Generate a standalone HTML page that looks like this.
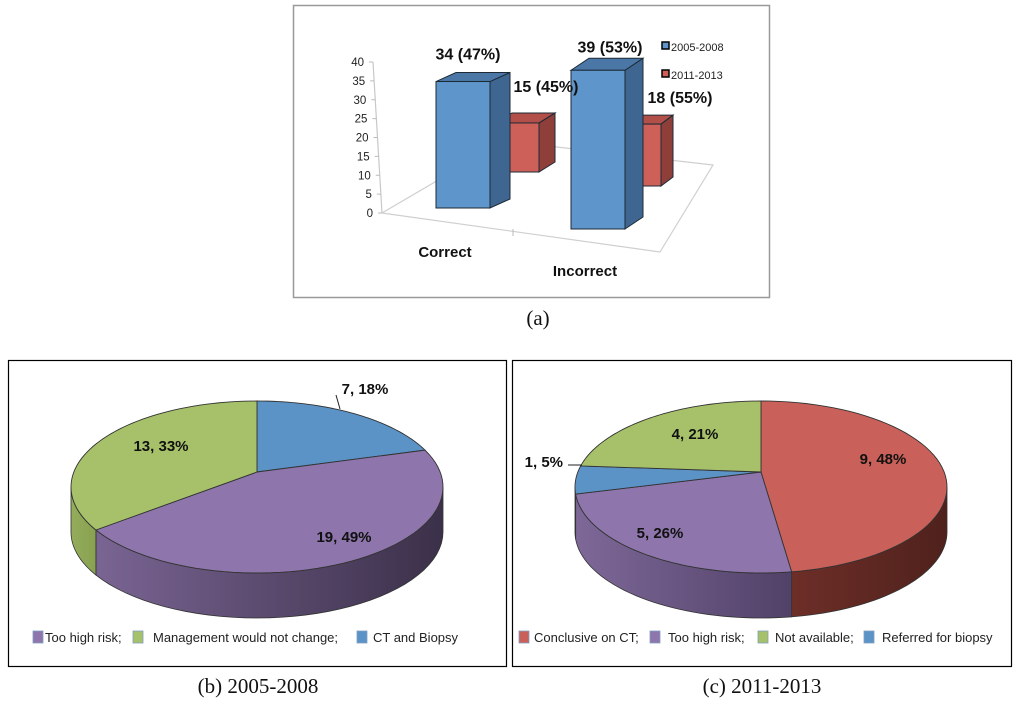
<!DOCTYPE html>
<html><head><meta charset="utf-8">
<style>
html,body{margin:0;padding:0;background:#fff;}
svg{display:block;font-family:"Liberation Sans",sans-serif;}
.cap{font-family:"Liberation Serif",serif;font-size:21px;fill:#111;}
</style></head>
<body>
<svg id="fig" width="1024" height="706" viewBox="0 0 1024 706">
<defs>
<linearGradient id="gPurple" gradientUnits="userSpaceOnUse" x1="72" x2="443" y1="0" y2="0">
<stop offset="0" stop-color="#7e6898"/><stop offset="1" stop-color="#3b3049"/></linearGradient>
<linearGradient id="gPurpleC" gradientUnits="userSpaceOnUse" x1="575" x2="800" y1="0" y2="0">
<stop offset="0" stop-color="#7e6898"/><stop offset="1" stop-color="#4f4066"/></linearGradient>
<linearGradient id="gRed" gradientUnits="userSpaceOnUse" x1="790" x2="948" y1="0" y2="0">
<stop offset="0" stop-color="#6e2e28"/><stop offset="1" stop-color="#4f211c"/></linearGradient>
<linearGradient id="gGreen" gradientUnits="userSpaceOnUse" x1="72" x2="100" y1="0" y2="0">
<stop offset="0" stop-color="#93ac5c"/><stop offset="1" stop-color="#86a050"/></linearGradient>
</defs>
<rect x="293.5" y="5.5" width="476" height="292" fill="#fff" stroke="#999" stroke-width="1.5"/>
<g id="barChart"></g>
<text class="cap" x="538" y="325" text-anchor="middle">(a)</text>
<rect x="8.5" y="360.5" width="498" height="306" fill="#fff" stroke="#000" stroke-width="1.2"/>
<g id="pieB"></g>
<rect x="512.5" y="360.5" width="499" height="306" fill="#fff" stroke="#000" stroke-width="1.2"/>
<g id="pieC"></g>
<text class="cap" x="258" y="693" text-anchor="middle">(b) 2005-2008</text>
<text class="cap" x="762" y="693" text-anchor="middle">(c) 2011-2013</text>
</svg>
<script>
const NS="http://www.w3.org/2000/svg";
// ---- bar chart data ----
const barCategories=["Correct","Incorrect"];
const series2005=[34,39];
const series2011=[15,18];
const labels2005=["34 (47%)","39 (53%)"];
const labels2011=["15 (45%)","18 (55%)"];
const yTicks=[0,5,10,15,20,25,30,35,40];
const seriesNames=["2005-2008","2011-2013"];
// ---- pie data ----
const pieBValues=[7,19,13];
const pieBLabels=["7, 18%","19, 49%","13, 33%"];
const pieBLegend=["Too high risk;","Management would not change;","CT and Biopsy"];
const pieCValues=[9,5,1,4];
const pieCLabels=["9, 48%","5, 26%","1, 5%","4, 21%"];
const pieCLegend=["Conclusive on CT;","Too high risk;","Not available;","Referred for biopsy"];

function el(tag,attrs,parent,text){const e=document.createElementNS(NS,tag);for(const k in attrs)e.setAttribute(k,attrs[k]);if(text!==undefined)e.textContent=text;parent.appendChild(e);return e;}

// ---- bar chart ----
(function(){
const g=document.getElementById('barChart');
const floor=el('polygon',{points:"382,213 660,252 713,165 505,141",fill:"none",stroke:"#cfcfcf","stroke-width":1.2},g);

el('line',{x1:513,y1:229,x2:513,y2:236,stroke:"#bbb"},g);
const ax=el('line',{x1:373,y1:62,x2:382,y2:213,stroke:"#c8c8c8","stroke-width":1.2},g);

function yAxisPos(v){const t=v/40;return {x:382-9*t,y:213-151*t};}
yTicks.forEach(v=>{const p=yAxisPos(v);
el('line',{x1:p.x-4,y1:p.y,x2:p.x,y2:p.y,stroke:"#bbb"},g);
const t=el('text',{x:p.x-9,y:p.y+4,"text-anchor":"end","font-size":"11.5",fill:"#222"},g,String(v));
});
const slot2005=[{x:436,w:54,base:208,k:3.72,dx:20,dy:-9,lx:32,ly:-22},{x:571,w:54,base:229,k:4.07,dx:18,dy:-12,lx:39,ly:-18}];
const slot2011=[{x:496,w:43,base:172,k:3.27,dx:16,dy:-10,lx:50,ly:-31},{x:622,w:39,base:186,k:3.44,dx:12,dy:-9,lx:58,ly:-21}];
function bar(s,v,front,top,side,name){
 const h=v*s.k, yt=s.base-h, x0=s.x, x1=s.x+s.w;
 const grp=el('g',{},g);
 
 el('polygon',{points:`${x1},${yt} ${x1+s.dx},${yt+s.dy} ${x1+s.dx},${s.base+s.dy} ${x1},${s.base}`,fill:side,stroke:"#1d2a36","stroke-width":1},grp);
 el('polygon',{points:`${x0},${yt} ${x0+s.dx},${yt+s.dy} ${x1+s.dx},${yt+s.dy} ${x1},${yt}`,fill:top,stroke:"#1d2a36","stroke-width":1},grp);
 el('rect',{x:x0,y:yt,width:s.w,height:h,fill:front,stroke:"#1d2a36","stroke-width":1},grp);
 return yt;
}
const lblStyle={"font-size":"16","font-weight":"bold",fill:"#111","text-anchor":"middle"};
series2011.forEach((v,i)=>{bar(slot2011[i],v,"#cd6159","#b14f48","#8f3f39",'bar-2011-'+barCategories[i].toLowerCase());});
series2005.forEach((v,i)=>{bar(slot2005[i],v,"#5e96cb","#4a77a6","#3f6690",'bar-2005-'+barCategories[i].toLowerCase());});
series2005.forEach((v,i)=>{const s=slot2005[i];const yt=s.base-v*s.k;
 const t=el('text',Object.assign({x:s.x+s.lx,y:yt+s.ly},lblStyle),g,labels2005[i]);
 });
series2011.forEach((v,i)=>{const s=slot2011[i];const yt=s.base-v*s.k;
 const t=el('text',Object.assign({x:s.x+s.lx,y:yt+s.ly},lblStyle),g,labels2011[i]);
 });
const cx=[445,585], cy=[257,276];
barCategories.forEach((c,i)=>{const t=el('text',{x:cx[i],y:cy[i],"text-anchor":"middle","font-size":"15","font-weight":"bold",fill:"#111"},g,c);
 });
const legCol=["#5e96cb","#cd6159"];
seriesNames.forEach((n,i)=>{const y=47+i*28;
 const lg=el('g',{},g);
 el('rect',{x:662,y:y-5,width:7,height:7,fill:legCol[i],stroke:"#000","stroke-width":1.5},lg);
 el('text',{x:671,y:y+4,"font-size":"11",fill:"#222"},lg,n);});
})();

// ---- pies ----
function pie(gid,cx,cy,rx,ry,depth,apex,values,colors,sideFills,labels,labelPos,name){
 const g=document.getElementById(gid);
 const total=values.reduce((a,b)=>a+b,0);
 const P=(th,dy)=>[cx+rx*Math.sin(th*Math.PI/180),cy-ry*Math.cos(th*Math.PI/180)+(dy||0)];
 let a=0;const segs=values.map(v=>{const s={a0:a,a1:a+v/total*360};a=s.a1;return s;});
 segs.forEach((s,i)=>{const lo=Math.max(s.a0,90),hi=Math.min(s.a1,270);if(hi<=lo)return;
  let pts=[];for(let t=lo;t<=hi+0.001;t+=(hi-lo)/40)pts.push(P(t));
  let bot=[];for(let t=hi;t>=lo-0.001;t-=(hi-lo)/40)bot.push(P(t,depth));
  const p=el('polygon',{points:pts.concat(bot).map(q=>q.join(',')).join(' '),fill:sideFills[i],stroke:"#333","stroke-width":0.8},g);
  });
 segs.forEach((s,i)=>{let pts=[apex];for(let t=s.a0;t<=s.a1+0.001;t+=(s.a1-s.a0)/60)pts.push(P(t));
  const p=el('polygon',{points:pts.map(q=>q.join(',')).join(' '),fill:colors[i],stroke:"#333","stroke-width":0.9},g);
  });
 labels.forEach((l,i)=>{const t=el('text',{x:labelPos[i][0],y:labelPos[i][1],"text-anchor":labelPos[i][2]||"middle","font-size":"15","font-weight":"bold",fill:"#111"},g,l);
  });
 return g;
}
const gB=pie('pieB',257,487,186,86,45,[257,472],pieBValues,["#5b93c7","#8e76ad","#a6c16a"],["#4a7aa6","url(#gPurple)","url(#gGreen)"],pieBLabels,[[365,394],[344,542],[161,451]],'pie-b');
el('line',{x1:340,y1:409,x2:336,y2:395,stroke:"#222"},gB);
const gC=pie('pieC',761,487,186,86,45,[761,472],pieCValues,["#c9615a","#8e76ad","#5b93c7","#a6c16a"],["url(#gRed)","url(#gPurpleC)","#4a7aa6","#8fa85a"],pieCLabels,[[883,464],[660,538],[563,467,"end"],[695,439]],'pie-c');
el('line',{x1:568,y1:465,x2:582,y2:465,stroke:"#222"},gC);
function legend(g,items,colors,sx,tx,y){items.forEach((n,i)=>{
 const lg=el('g',{},g);
 el('rect',{x:sx[i],y:y-11,width:10,height:12,fill:colors[i],stroke:"#7f9fc0","stroke-width":0.8},lg);
 el('text',{x:tx[i],y:y,"font-size":"13",fill:"#222"},lg,n);});}
legend(gB,pieBLegend,["#8e76ad","#a6c16a","#5b93c7"],[33,133,357],[45,153,373],642);
legend(gC,pieCLegend,["#c9615a","#8e76ad","#a6c16a","#5b93c7"],[519,650,758,864],[534,668,775,882],642);
</script>
</body></html>
